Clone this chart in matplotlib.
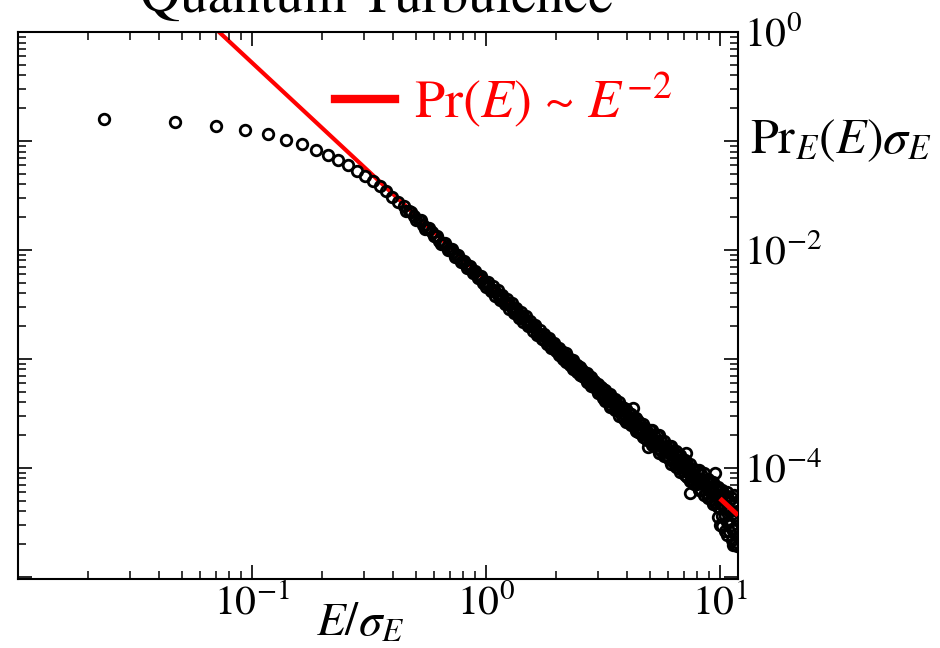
import numpy as np
import matplotlib
matplotlib.use("Agg")
import matplotlib.pyplot as plt
from matplotlib.ticker import LogLocator, FuncFormatter, NullFormatter
from matplotlib.lines import Line2D
import matplotlib.transforms as mtransforms

plt.rcParams['font.family'] = ['STIXGeneral', 'DejaVu Serif']
plt.rcParams['mathtext.fontset'] = 'stix'

# ---------------- data ----------------
TITLE = "Quantum Turbulence"
X_LIMITS = (0.01, 11.94)
Y_LIMITS = (9.55e-6, 1.0)
X_LABELLED_EXPONENTS = [-1, 0, 1]
Y_LABELLED_EXPONENTS = [0, -2, -4]

# low-energy bins (separate circles, then a chain)
E_LOW = [0.0234, 0.0468, 0.0702, 0.0936, 0.117, 0.1404, 0.1638, 0.1872, 0.2106, 0.234,
         0.2574, 0.2808, 0.3042, 0.3276, 0.351, 0.3744, 0.3978, 0.4212, 0.4446, 0.468,
         0.4914, 0.5148, 0.5382, 0.5616, 0.585, 0.6084, 0.6318, 0.6552, 0.6786, 0.702,
         0.7254, 0.7488, 0.7722, 0.7956, 0.819, 0.8424, 0.8658, 0.8892, 0.9126, 0.936,
         0.9594, 0.9828]
PR_LOW = [0.159, 0.149, 0.137, 0.127, 0.115, 0.102, 0.0933, 0.0826, 0.0745, 0.0670,
          0.0603, 0.0535, 0.0481, 0.0433, 0.0386, 0.0348, 0.0308, 0.0277, 0.0251, 0.0226,
          0.0205, 0.0187, 0.0171, 0.0159, 0.0145, 0.0134, 0.0122, 0.0115, 0.0107, 0.0100,
          0.0095, 0.00883, 0.0083, 0.0077, 0.00738, 0.00697, 0.0067, 0.00626, 0.00585, 0.00565,
          0.00537, 0.00512]

# the band starts to thicken
E_LOW_B = [0.4563, 0.4797, 0.5031, 0.5265, 0.5499, 0.5733, 0.5967, 0.6201, 0.6435, 0.6669,
           0.6903, 0.7137, 0.7371, 0.7605, 0.7839, 0.8073, 0.8307, 0.8541, 0.8775, 0.9009,
           0.9243, 0.9477, 0.9711]
PR_LOW_B = [0.0227, 0.0225, 0.0187, 0.0187, 0.0156, 0.0158, 0.0133, 0.0135, 0.0114, 0.01165,
            0.00992, 0.01017, 0.00870, 0.00896, 0.00769, 0.00795, 0.00685, 0.00710, 0.00614, 0.00638,
            0.00553, 0.00577, 0.00501]

E_MID = [1.000, 1.023, 1.047, 1.072, 1.096, 1.122, 1.148, 1.175, 1.202, 1.230,
         1.259, 1.288, 1.318, 1.349, 1.380, 1.413, 1.445, 1.479, 1.514, 1.549,
         1.585, 1.622, 1.660, 1.698, 1.738, 1.778, 1.820, 1.862, 1.905, 1.950]
PR_MID = [4.90e-3, 4.79e-3, 4.37e-3, 4.27e-3, 4.17e-3, 3.89e-3, 3.63e-3, 3.72e-3, 3.39e-3, 3.16e-3,
          3.24e-3, 2.95e-3, 2.75e-3, 2.82e-3, 2.57e-3, 2.40e-3, 2.46e-3, 2.24e-3, 2.04e-3, 2.09e-3,
          1.95e-3, 2.00e-3, 1.74e-3, 1.70e-3, 1.66e-3, 1.48e-3, 1.51e-3, 1.41e-3, 1.32e-3, 1.35e-3]
PR_MID_B = [4.56e-3, 5.12e-3, 4.16e-3, 4.67e-3, 3.79e-3, 4.26e-3, 3.46e-3, 3.88e-3, 3.16e-3, 3.54e-3,
            2.88e-3, 3.23e-3, 2.62e-3, 2.94e-3, 2.39e-3, 2.69e-3, 2.18e-3, 2.45e-3, 1.99e-3, 2.23e-3,
            1.82e-3, 2.04e-3, 1.66e-3, 1.86e-3, 1.51e-3, 1.69e-3, 1.38e-3, 1.55e-3, 1.26e-3, 1.41e-3]

E_HIGH = [1.995, 2.042, 2.089, 2.138, 2.188, 2.239, 2.291, 2.344, 2.399, 2.455,
          2.512, 2.570, 2.630, 2.692, 2.754, 2.818, 2.884, 2.951, 3.020, 3.090,
          3.162, 3.236, 3.311, 3.388, 3.467, 3.548, 3.631, 3.715, 3.802, 3.890,
          3.981, 4.074, 4.169, 4.266, 4.365, 4.467, 4.571, 4.677, 4.786, 4.898,
          5.012, 5.129, 5.248, 5.370, 5.495, 5.623, 5.754, 5.888, 6.026, 6.166,
          6.310, 6.457, 6.607, 6.761, 6.918, 7.079, 7.244, 7.413, 7.586, 7.762,
          7.943, 8.128, 8.318, 8.511, 8.710, 8.913, 9.120, 9.333, 9.550, 9.772,
          10.00, 10.23, 10.47, 10.72, 10.96, 11.22, 11.48, 11.75]
PR_HIGH_UPPER = [1.288e-3, 1.259e-3, 1.175e-3, 1.148e-3, 1.122e-3, 1.023e-3, 1.000e-3, 9.772e-4, 8.913e-4, 8.710e-4,
                 8.511e-4, 7.943e-4, 7.413e-4, 7.413e-4, 6.918e-4, 6.761e-4, 6.310e-4, 5.888e-4, 5.888e-4, 5.495e-4,
                 5.248e-4, 5.129e-4, 4.677e-4, 4.786e-4, 4.365e-4, 4.266e-4, 3.890e-4, 3.981e-4, 3.631e-4, 3.548e-4,
                 3.467e-4, 3.162e-4, 3.090e-4, 2.818e-4, 2.884e-4, 2.692e-4, 2.512e-4, 2.512e-4, 2.344e-4, 2.188e-4,
                 2.239e-4, 2.239e-4, 1.995e-4, 1.995e-4, 1.995e-4, 1.778e-4, 1.778e-4, 1.585e-4, 1.585e-4, 1.585e-4,
                 1.413e-4, 1.413e-4, 1.318e-4, 1.318e-4, 1.175e-4, 1.175e-4, 1.096e-4, 1.096e-4, 9.772e-5, 9.772e-5,
                 9.333e-5, 9.550e-5, 8.710e-5, 8.913e-5, 7.762e-5, 7.943e-5, 7.413e-5, 7.413e-5, 6.607e-5, 6.607e-5,
                 6.166e-5, 5.754e-5, 5.248e-5, 5.495e-5, 5.012e-5, 5.248e-5, 4.786e-5, 4.898e-5]
PR_HIGH_CENTER = [1.230e-3, 1.202e-3, 1.096e-3, 1.072e-3, 1.047e-3, 9.550e-4, 9.333e-4, 9.120e-4, 8.318e-4, 8.128e-4,
                  7.943e-4, 7.244e-4, 7.079e-4, 6.918e-4, 6.310e-4, 6.166e-4, 6.026e-4, 5.495e-4, 5.370e-4, 5.248e-4,
                  4.677e-4, 4.571e-4, 4.467e-4, 4.074e-4, 3.981e-4, 3.890e-4, 3.548e-4, 3.467e-4, 3.388e-4, 3.090e-4,
                  3.020e-4, 2.951e-4, 2.692e-4, 2.630e-4, 2.570e-4, 2.344e-4, 2.291e-4, 2.239e-4, 2.042e-4, 1.995e-4,
                  2.042e-4, 1.862e-4, 1.820e-4, 1.778e-4, 1.622e-4, 1.585e-4, 1.549e-4, 1.413e-4, 1.380e-4, 1.349e-4,
                  1.230e-4, 1.202e-4, 1.175e-4, 1.072e-4, 1.047e-4, 1.023e-4, 9.333e-5, 9.120e-5, 8.913e-5, 8.128e-5,
                  8.128e-5, 7.943e-5, 7.244e-5, 7.079e-5, 6.918e-5, 6.310e-5, 6.166e-5, 6.026e-5, 5.495e-5, 5.370e-5,
                  5.248e-5, 4.571e-5, 4.365e-5, 4.169e-5, 3.981e-5, 3.802e-5, 3.631e-5, 3.467e-5]
PR_HIGH_LOWER = [1.175e-3, 1.096e-3, 1.072e-3, 1.000e-3, 9.333e-4, 9.333e-4, 8.710e-4, 8.128e-4, 8.128e-4, 7.586e-4,
                 7.079e-4, 6.918e-4, 6.761e-4, 6.166e-4, 6.026e-4, 5.623e-4, 5.495e-4, 5.370e-4, 4.898e-4, 4.786e-4,
                 4.365e-4, 4.074e-4, 4.074e-4, 3.631e-4, 3.631e-4, 3.388e-4, 3.388e-4, 3.020e-4, 3.020e-4, 2.818e-4,
                 2.630e-4, 2.630e-4, 2.455e-4, 2.455e-4, 2.188e-4, 2.138e-4, 2.089e-4, 1.905e-4, 1.862e-4, 1.820e-4,
                 1.778e-4, 1.622e-4, 1.660e-4, 1.514e-4, 1.380e-4, 1.413e-4, 1.288e-4, 1.318e-4, 1.202e-4, 1.096e-4,
                 1.122e-4, 1.023e-4, 1.000e-4, 9.120e-5, 9.333e-5, 8.511e-5, 8.318e-5, 7.586e-5, 7.762e-5, 7.079e-5,
                 7.079e-5, 6.310e-5, 6.310e-5, 5.623e-5, 5.888e-5, 5.248e-5, 5.129e-5, 4.677e-5, 4.786e-5, 4.365e-5,
                 4.266e-5, 3.631e-5, 3.631e-5, 3.162e-5, 3.162e-5, 2.754e-5, 2.754e-5, 2.455e-5]

E_TAIL = [9.772, 10.00, 10.23, 10.47, 10.72, 10.96, 11.22, 11.48, 11.75, 10.23, 10.72, 11.48, 11.85, 11.85]
PR_TAIL = [3.548e-5, 3.020e-5, 2.951e-5, 2.630e-5, 2.399e-5, 2.630e-5, 2.188e-5, 1.995e-5, 2.089e-5,
           6.310e-5, 6.026e-5, 5.623e-5, 3.981e-5, 1.905e-5]

E_OUTLIER = [4.25, 4.92, 7.16, 9.53, 7.45, 11.4]
PR_OUTLIER = [3.548e-4, 1.549e-4, 1.380e-4, 8.913e-5, 5.888e-5, 1.950e-5]

# reference power law  Pr(E) ~ E^-2
FIT_C = 5.23e-3
FIT_EXPONENT = -2.0
FIT_E_RANGE = [0.01, 11.94]
FIT_E_TOP_RANGE = [10.0, 11.94]

LEGEND_LABEL = r'Pr($E$) ~ $E^{-2}$'
Y_LABEL = r'$\mathrm{Pr}_E(E)\sigma_E$'
X_LABEL = r'$E/\sigma_E$'

# ---------------- figure ----------------
W, H = 940, 648
fig = plt.figure(figsize=(W / 100, H / 100), dpi=100)
ax = fig.add_axes([18 / W, (H - 579) / H, 720 / W, 547 / H])
ax.set_xscale('log')
ax.set_yscale('log')

e_fit = np.array(FIT_E_RANGE)
ax.plot(e_fit, FIT_C * e_fit ** FIT_EXPONENT, color='red', lw=3, zorder=1,
        solid_capstyle='butt')

E_all = np.concatenate([E_LOW, E_LOW_B, E_MID, E_MID, E_HIGH, E_HIGH, E_HIGH,
                        E_TAIL, E_OUTLIER])
PR_all = np.concatenate([PR_LOW, PR_LOW_B, PR_MID, PR_MID_B, PR_HIGH_UPPER,
                         PR_HIGH_CENTER, PR_HIGH_LOWER, PR_TAIL, PR_OUTLIER])
ax.plot(E_all, PR_all, ls='none', marker='o', ms=7.6, mfc='none', mec='black',
        mew=2.0, zorder=2)

e_top = np.array(FIT_E_TOP_RANGE)
ax.plot(e_top, FIT_C * e_top ** FIT_EXPONENT, color='red', lw=3.5, zorder=3,
        solid_capstyle='butt')

ax.set_xlim(*X_LIMITS)
ax.set_ylim(*Y_LIMITS)

for s in ax.spines.values():
    s.set_linewidth(1.5)

ax.xaxis.set_major_locator(LogLocator(base=10, numticks=20))
ax.xaxis.set_minor_locator(LogLocator(base=10, subs=np.arange(2, 10), numticks=50))
ax.yaxis.set_major_locator(LogLocator(base=10, numticks=20))
ax.yaxis.set_minor_locator(LogLocator(base=10, subs=np.arange(2, 10), numticks=50))


def xfmt(v, pos):
    e = int(round(np.log10(v)))
    if e in X_LABELLED_EXPONENTS:
        return r'$\mathdefault{10^{%d}}$' % e
    return ''


def yfmt(v, pos):
    e = int(round(np.log10(v)))
    if e in Y_LABELLED_EXPONENTS:
        return r'$\mathdefault{10^{%d}}$' % e
    return ''


ax.xaxis.set_major_formatter(FuncFormatter(xfmt))
ax.xaxis.set_minor_formatter(NullFormatter())
ax.yaxis.set_major_formatter(FuncFormatter(yfmt))
ax.yaxis.set_minor_formatter(NullFormatter())

ax.tick_params(axis='both', which='both', direction='in', top=True, bottom=True,
               left=True, right=True, colors='black')
ax.tick_params(axis='y', labelleft=False, labelright=True)
ax.tick_params(which='major', length=10, width=1.2, labelsize=30, pad=4)
ax.tick_params(which='minor', length=5.5, width=1.1)

# labels
trans = mtransforms.blended_transform_factory(ax.transAxes, ax.transData)
ax.text(1 + 12 / 720, 0.1, Y_LABEL, transform=trans, ha='left', va='center',
        fontsize=36, clip_on=False)
fig.text(360 / W, 1 - 636 / H, X_LABEL, ha='center', va='baseline', fontsize=34)
fig.text(376 / W, 1 - 12 / H, TITLE, ha='center', va='baseline', fontsize=40)

handle = Line2D([], [], color='red', lw=6)
ax.legend(handles=[handle], labels=[LEGEND_LABEL], loc='center left',
          bbox_to_anchor=(335 / W, 1 - 100 / H), bbox_transform=fig.transFigure,
          frameon=False, borderpad=0, borderaxespad=0, handlelength=1.1,
          handletextpad=0.35, prop={'size': 39}, labelcolor='red')

fig.savefig('out.png', dpi=100, facecolor='white')
